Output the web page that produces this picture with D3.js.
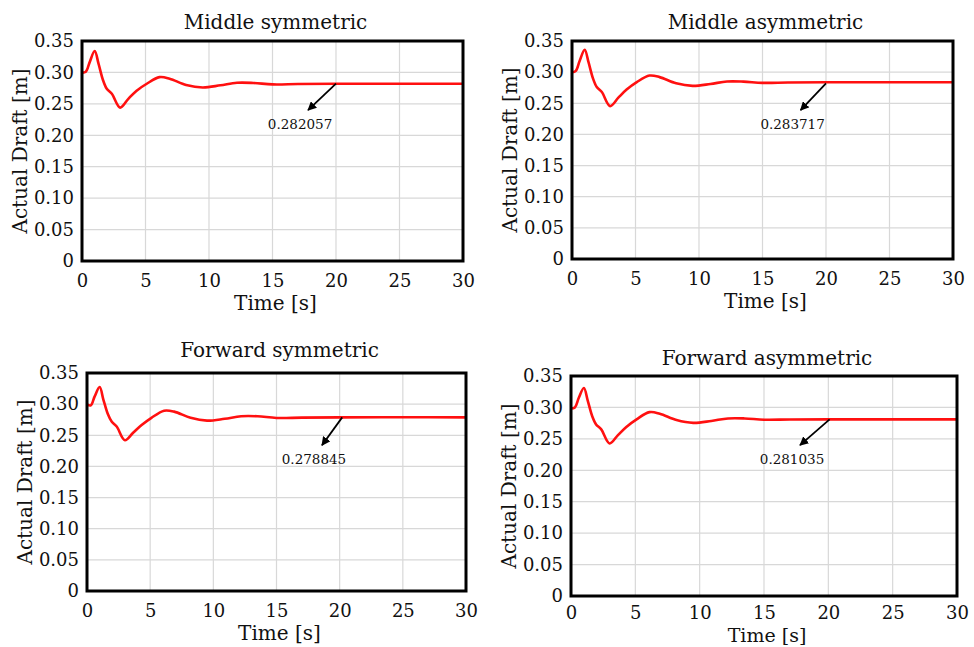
<!DOCTYPE html>
<html>
<head>
<meta charset="utf-8">
<script src="https://cdn.jsdelivr.net/npm/d3@7"></script>
<style>
  body { margin: 0; background: #fff; }
  svg { display: block; }
  text { font-family: "DejaVu Serif", "Liberation Serif", serif; fill: #111; }
</style>
</head>
<body>
<svg width="974" height="647"></svg>
<script>
// time samples [s], shared by all four runs
const time = [0, 0.3, 0.6, 1.0, 1.3, 1.65, 1.95, 2.35, 3.0, 3.65, 4.3, 5.1, 6.1, 6.9, 8.2, 9.5, 10.9, 12.2, 13.5, 15, 17, 20, 25, 30];

const middleSym  = [0.2997, 0.301, 0.316, 0.334, 0.314, 0.288, 0.274, 0.266, 0.244, 0.258, 0.271, 0.282, 0.2925, 0.290, 0.280, 0.276, 0.2795, 0.2835, 0.2832, 0.281, 0.2815, 0.2820, 0.2821, 0.2821];
const middleAsym = [0.2997, 0.302, 0.318, 0.336, 0.316, 0.290, 0.276, 0.268, 0.2455, 0.259, 0.272, 0.284, 0.2945, 0.292, 0.282, 0.278, 0.281, 0.285, 0.2848, 0.2828, 0.2833, 0.2837, 0.2837, 0.2837];
const forwardSym = [0.2997, 0.298, 0.312, 0.3275, 0.307, 0.284, 0.272, 0.264, 0.242, 0.254, 0.266, 0.278, 0.2895, 0.288, 0.278, 0.2735, 0.2765, 0.2805, 0.2805, 0.2778, 0.2783, 0.2788, 0.2789, 0.2788];
const forwardAsym = [0.2985, 0.300, 0.315, 0.331, 0.311, 0.286, 0.273, 0.265, 0.2427, 0.256, 0.269, 0.281, 0.2925, 0.290, 0.280, 0.2755, 0.2785, 0.2825, 0.2825, 0.2805, 0.2808, 0.2810, 0.2810, 0.2810];

const titles = ["Middle symmetric", "Middle asymmetric", "Forward symmetric", "Forward asymmetric"];
const finalLabels = ["0.282057", "0.283717", "0.278845", "0.281035"];
// arrow tail / head in data units [t, draft]
const arrowTail = [[20, 0.2821], [20, 0.2820], [20.2, 0.2788], [20.1, 0.2810]];
const arrowHead = [[17.8, 0.240], [18.0, 0.239], [18.6, 0.234], [17.8, 0.240]];

const xTicks = [0, 5, 10, 15, 20, 25, 30];
const yTicks = [0, 0.05, 0.10, 0.15, 0.20, 0.25, 0.30, 0.35];

// panel boxes (pixels)
const layout = [
  { left: 82,  right: 463, top: 41,  bottom: 261, titleDy: -12, xlabDy: 49, pad: 13, xlabSize: 20 },
  { left: 572, right: 953, top: 41,  bottom: 259, titleDy: -12, xlabDy: 49, pad: 13, xlabSize: 20 },
  { left: 87,  right: 466, top: 373, bottom: 591, titleDy: -16, xlabDy: 49, pad: 13, xlabSize: 20 },
  { left: 571, right: 957, top: 376, bottom: 596, titleDy: -11, xlabDy: 46, pad: 10, xlabSize: 19 }
];

const series = [middleSym, middleAsym, forwardSym, forwardAsym];

const svg = d3.select("svg");

svg.append("defs").append("marker")
    .attr("id", "head")
    .attr("viewBox", "0 0 10 10")
    .attr("refX", 9).attr("refY", 5)
    .attr("markerWidth", 5).attr("markerHeight", 5)
    .attr("orient", "auto")
  .append("path")
    .attr("d", "M0,0 L10,5 L0,10 z")
    .attr("fill", "#000");

series.forEach((vals, i) => {
  const L = layout[i];
  const w = L.right - L.left, h = L.bottom - L.top;
  const g = svg.append("g").attr("transform", `translate(${L.left},${L.top})`);

  const x = d3.scaleLinear().domain([0, 30]).range([0, w]);
  const y = d3.scaleLinear().domain([0, 0.35]).range([h, 0]);

  // grid
  g.append("g").selectAll("line").data(xTicks).join("line")
    .attr("x1", d => x(d)).attr("x2", d => x(d))
    .attr("y1", 0).attr("y2", h)
    .attr("stroke", "#d8d8d8").attr("stroke-width", 1.2);
  g.append("g").selectAll("line").data(yTicks).join("line")
    .attr("x1", 0).attr("x2", w)
    .attr("y1", d => y(d)).attr("y2", d => y(d))
    .attr("stroke", "#d8d8d8").attr("stroke-width", 1.2);

  // axes (labels only)
  const xa = g.append("g").attr("transform", `translate(0,${h})`)
    .call(d3.axisBottom(x).tickValues(xTicks).tickSize(0).tickPadding(L.pad).tickFormat(d3.format("d")));
  const ya = g.append("g")
    .call(d3.axisLeft(y).tickValues(yTicks).tickSize(0).tickPadding(8)
      .tickFormat(d => d === 0 ? "0" : d3.format(".2f")(d)));
  [xa, ya].forEach(a => {
    a.select(".domain").remove();
    a.selectAll("text").attr("font-size", 18).attr("font-family", null).attr("fill", "#111");
  });

  // curve
  const line = d3.line()
    .x((d, k) => x(time[k]))
    .y(d => y(d))
    .curve(d3.curveCatmullRom.alpha(0.5));
  g.append("path")
    .datum(vals)
    .attr("d", line)
    .attr("fill", "none")
    .attr("stroke", "#ff1010")
    .attr("stroke-width", 2.6);

  // frame
  g.append("rect")
    .attr("width", w).attr("height", h)
    .attr("fill", "none").attr("stroke", "#000").attr("stroke-width", 3);

  // annotation arrow
  const t0 = arrowTail[i], t1 = arrowHead[i];
  g.append("line")
    .attr("x1", x(t0[0])).attr("y1", y(t0[1]))
    .attr("x2", x(t1[0])).attr("y2", y(t1[1]))
    .attr("stroke", "#000").attr("stroke-width", 1.8)
    .attr("marker-end", "url(#head)");
  g.append("text")
    .attr("x", x(t1[0]) - 8).attr("y", y(t1[1]) + 19)
    .attr("text-anchor", "middle")
    .attr("font-size", 13.5)
    .text(finalLabels[i]);

  // titles
  g.append("text")
    .attr("x", w / 2 + 3).attr("y", L.titleDy)
    .attr("text-anchor", "middle")
    .attr("font-size", 20)
    .text(titles[i]);
  g.append("text")
    .attr("x", w / 2 + 3).attr("y", h + L.xlabDy)
    .attr("text-anchor", "middle")
    .attr("font-size", L.xlabSize)
    .text("Time [s]");
  g.append("text")
    .attr("transform", `translate(-62,${h / 2}) rotate(-90)`)
    .attr("dy", "0.35em")
    .attr("text-anchor", "middle")
    .attr("font-size", 20)
    .text("Actual Draft [m]");
});
</script>
</body>
</html>
